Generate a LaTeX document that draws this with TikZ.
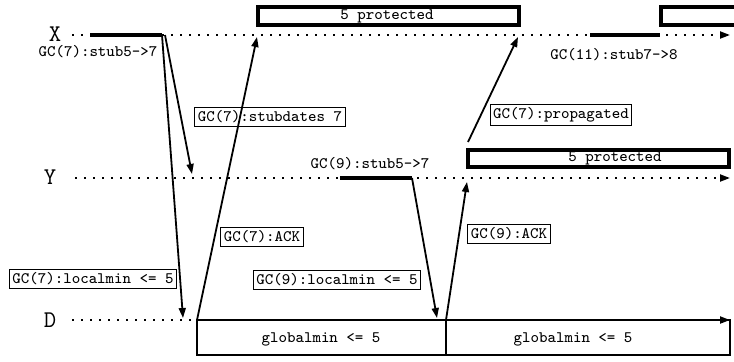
\documentclass[tikz,border=0pt]{standalone}
\usetikzlibrary{arrows.meta}
\begin{document}
\begin{tikzpicture}[x=0.5pt,y=-0.5pt]
		\begin{scope}
		\clip (0,0) rectangle (734,361);
		
		\tikzstyle{timeline}=[line width=1pt,
		dash pattern=on 1pt off 3.5pt,
		-{Triangle[length=5pt,width=3.5pt]}
		]
		\tikzstyle{stub}=[line width=2pt]
		\tikzstyle{msg}=[line width=0.9pt,
		-{Triangle[length=5pt,width=3.5pt]}
		]
		\tikzstyle{msglabel}=[draw,
		line width=0.5pt,
		inner sep=1.5pt,
		font=\fontsize{8}{9}\selectfont\ttfamily
		]
		\tikzstyle{plain}=[inner sep=0.5pt,
		font=\fontsize{8}{9}\selectfont\ttfamily
		]
		\tikzstyle{procname}=[inner sep=0pt,
		font=\fontsize{12}{13}\selectfont\ttfamily
		]
		\tikzstyle{protbox}=[line width=2pt]
		\tikzstyle{minbox}=[line width=0.6pt]
		
		% process lines
		\coordinate (xa) at (72, 35);
		\coordinate (xb) at (730, 35);
		\coordinate (ya) at (75, 178);
		\coordinate (yb) at (730, 178);
		\coordinate (da) at (72, 320);
		\coordinate (db) at (730, 320);
		
		% stubs
		\coordinate (xs1) at (90, 35);
		\coordinate (xs2) at (162, 35);
		\coordinate (xs3) at (590, 35);
		\coordinate (xs4) at (660, 35);
		\coordinate (ys1) at (340, 178);
		\coordinate (ys2) at (412, 178);
		
		% message ends
		\coordinate (pd1) at (183, 318);
		\coordinate (xs2b) at (165, 35);
		\coordinate (py1) at (192, 174);
		\coordinate (pd2) at (197, 320);
		\coordinate (px1) at (257, 37);
		\coordinate (pd3) at (437, 318);
		\coordinate (pd4) at (446, 320);
		\coordinate (py2) at (467, 182);
		\coordinate (pp) at (468, 142);
		\coordinate (px2) at (518, 37);
		
		\node[procname] (x) at (55, 34) {X};
		\node[procname] (y) at (50, 177) {Y};
		\node[procname] (d) at (50, 320) {D};
		
		\draw[timeline] (xa) -- (xb);
		\draw[timeline] (ya) -- (yb);
		\draw[timeline] (da) -- (db);
		
		\draw[stub] (xs1) -- (xs2);
		\draw[stub] (xs3) -- (xs4);
		\draw[stub] (ys1) -- (ys2);
		
		% protected ranges
		\draw[protbox] (257.5, 7) rectangle (519, 25);
		\draw[protbox] (661, 7) rectangle (760, 25);
		\draw[protbox] (468, 150) rectangle (729, 167);
		\node[plain] (prot1) at (387, 16) {5 protected};
		\node[plain] (prot2) at (615, 158) {5 protected};
		
		% global minimum
		\draw[minbox] (197, 320) rectangle (446, 355);
		\draw[minbox] (446, 320) rectangle (730, 355);
		\node[plain] (gm1) at (321, 339) {globalmin <= 5};
		\node[plain] (gm2) at (573, 339) {globalmin <= 5};
		
		\node[plain] (st1) at (98, 52) {GC(7):stub5->7};
		\node[plain] (st2) at (614, 55) {GC(11):stub7->8};
		\node[plain] (st3) at (370, 164) {GC(9):stub5->7};
		
		\draw[msg] (xs2) -- (pd1);
		\draw[msg] (xs2b) -- (py1);
		\draw[msg] (pd2) -- (px1);
		\draw[msg] (ys2) -- (pd3);
		\draw[msg] (pd4) -- (py2);
		\draw[msg] (pp) -- (px2);
		
		\node[msglabel] (l1) at (270, 117) {GC(7):stubdates 7};
		\node[msglabel] (l2) at (561, 115) {GC(7):propagated};
		\node[msglabel] (l3) at (262, 237) {GC(7):ACK};
		\node[msglabel] (l4) at (509, 234) {GC(9):ACK};
		\node[msglabel] (l5) at (93, 279) {GC(7):localmin <= 5};
		\node[msglabel] (l6) at (337, 280) {GC(9):localmin <= 5};
		
		\end{scope}
\end{tikzpicture}
\end{document}
